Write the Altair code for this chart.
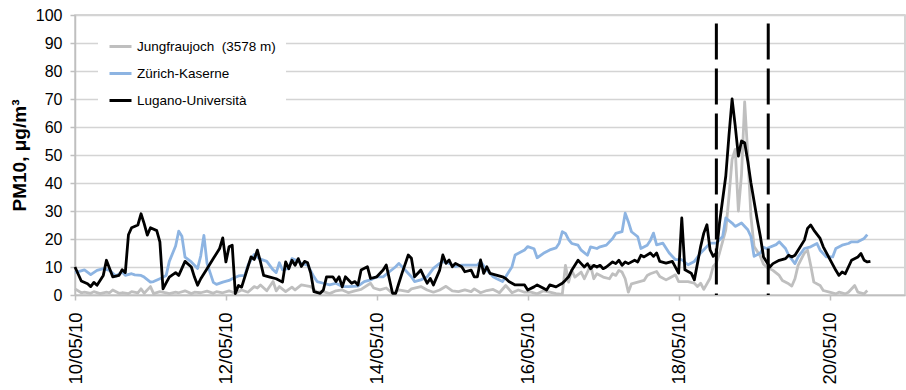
import altair as alt
import pandas as pd

# Hourly PM10 concentrations, 10-20 May 2010; offsets are hours after 10/05/10 00:00
START = pd.Timestamp("2010-05-10 00:00")

JUNG_NAME = "Jungfraujoch\u00a0\u00a0(3578 m)"
ZUR_NAME = "Zürich-Kaserne"
LUG_NAME = "Lugano-Università"

STATIONS = [JUNG_NAME, ZUR_NAME, LUG_NAME]
COLORS = ["#BFBFBF", "#8DB4E2", "#000000"]

JUNG_HOURS = [0, 2, 3, 5, 6, 8, 10, 11, 12, 14,
              15, 17, 18, 20, 21, 22, 24, 25, 27, 29,
              30, 32, 33, 35, 37, 38, 40, 42, 44, 45,
              47, 49, 51, 53, 55, 57, 58, 59, 61, 63,
              64, 65, 67, 69, 70, 72, 75, 77, 79, 81,
              83, 85, 87, 89, 91, 94, 95, 97, 99, 101,
              103, 106, 107, 110, 112, 114, 116, 118, 120, 122,
              124, 126, 127, 129, 131, 133, 135, 137, 139, 141,
              143, 145, 147, 149, 151, 153, 155, 156, 157, 158,
              159, 161, 162, 164, 165, 166, 168, 170, 171, 172,
              173, 174, 175, 176, 177, 179, 181, 182, 183, 185,
              186, 188, 189, 191, 192, 193, 195, 197, 198, 199,
              200, 202, 203, 204, 205, 207, 208, 209, 210, 211,
              212, 213, 214, 215, 216, 218, 219, 220, 222, 224,
              225, 227, 228, 229, 230, 232, 233, 234, 235, 237,
              238, 240, 242, 243, 245, 246, 248, 249, 251, 252]
JUNG_PM10 = [2.2, 0.8, 1.0, 0.6, 1.2, 0.5, 1.0, 0.8, 1.8, 0.6,
             0.8, 0.5, 1.2, 0.8, 2.2, 0.6, 3.0, 0.5, 1.2, 0.8,
             0.5, 1.0, 0.8, 1.5, 0.5, 1.0, 0.8, 1.4, 0.6, 1.2,
             0.8, 1.5, 0.6, 1.8, 1.0, 3.0, 2.5, 3.6, 1.5, 4.8,
             1.5, 3.0, 1.2, 2.8, 1.8, 3.6, 3.0, 1.0, 1.2, 0.5,
             1.5, 1.8, 0.8, 1.5, 2.0, 4.2, 2.5, 1.8, 2.5, 0.6,
             1.8, 1.2, 2.2, 3.0, 1.8, 1.0, 1.8, 3.1, 1.5, 1.2,
             1.8, 1.2, 2.2, 0.8, 1.6, 2.0, 0.8, 3.4, 0.8, 1.8,
             1.0, 1.0, 0.4, 1.5, 1.0, 0.5, 0.2, 10.6, 4.6, 8.8,
             6.4, 8.2, 5.8, 10.6, 5.8, 7.6, 6.4, 5.8, 7.6, 7.0,
             8.8, 8.2, 5.8, 1.0, 4.0, 4.6, 5.2, 7.0, 7.6, 8.4,
             6.6, 5.4, 6.0, 7.2, 4.8, 4.8, 4.8, 4.2, 3.0, 4.2,
             2.0, 6.0, 10.2, 11.4, 15.0, 23.3, 35.0, 48.4, 52.0, 30.0,
             43.0, 69.0, 50.0, 28.0, 17.3, 13.8, 11.0, 10.0, 8.8, 7.0,
             5.2, 4.0, 3.2, 5.8, 10.6, 15.0, 16.0, 10.6, 4.6, 3.4,
             1.6, 1.0, 0.4, 1.0, 0.4, 1.0, 3.4, 1.0, 0.4, 1.6]

ZUR_HOURS = [0, 3, 5, 7, 9, 11, 13, 15, 16, 18,
             19, 21, 22, 24, 25, 27, 29, 30, 32, 33,
             34, 35, 37, 39, 40, 41, 42, 44, 45, 47,
             49, 50, 52, 54, 55, 57, 58, 59, 61, 63,
             64, 65, 66, 68, 69, 71, 72, 74, 76, 77,
             79, 81, 83, 85, 87, 90, 92, 94, 96, 98,
             100, 102, 103, 105, 107, 108, 110, 112, 114, 116,
             117, 119, 121, 123, 126, 128, 129, 131, 133, 134,
             136, 137, 139, 140, 143, 144, 146, 147, 149, 151,
             153, 154, 155, 156, 157, 158, 160, 161, 163, 164,
             166, 167, 169, 171, 172, 174, 175, 176, 177, 179,
             180, 182, 183, 184, 185, 187, 189, 191, 193, 195,
             197, 199, 201, 202, 204, 206, 207, 209, 210, 212,
             214, 215, 216, 218, 219, 220, 223, 224, 226, 227,
             229, 230, 232, 234, 236, 237, 239, 241, 242, 244,
             246, 247, 249, 251, 252]
ZUR_PM10 = [8.0, 9.0, 7.3, 8.8, 9.4, 8.8, 6.8, 8.2, 7.0, 7.6,
            7.2, 7.0, 6.4, 4.6, 4.8, 5.8, 7.0, 12.0, 17.5, 22.8,
            21.0, 13.5, 11.8, 9.5, 14.0, 21.3, 11.3, 4.5, 3.8, 4.6,
            5.2, 5.8, 6.8, 7.0, 10.6, 14.5, 13.5, 12.8, 12.0, 9.0,
            8.0, 11.5, 9.0, 9.5, 13.0, 12.0, 11.3, 10.7, 6.5, 4.8,
            4.2, 3.6, 4.2, 3.0, 3.0, 3.2, 4.8, 5.4, 6.5, 6.5,
            8.3, 10.1, 11.3, 8.9, 6.5, 4.8, 5.4, 6.5, 9.5, 11.3,
            11.9, 11.3, 10.1, 10.7, 10.7, 10.7, 11.9, 8.9, 6.5, 5.9,
            4.8, 6.5, 10.1, 14.3, 16.1, 17.3, 16.5, 13.3, 14.9, 16.1,
            16.8, 18.5, 22.6, 22.0, 19.8, 18.4, 17.8, 16.0, 14.2, 17.2,
            16.6, 17.2, 17.8, 20.2, 22.0, 22.6, 29.2, 26.2, 22.6, 20.8,
            16.6, 17.8, 19.5, 22.1, 17.9, 18.5, 15.0, 12.6, 12.6, 10.8,
            12.0, 15.0, 17.3, 18.5, 18.5, 20.9, 27.5, 25.7, 24.5, 25.7,
            23.3, 20.9, 13.8, 15.0, 17.0, 16.6, 18.0, 19.0, 16.6, 14.2,
            11.2, 13.6, 16.6, 17.2, 18.4, 16.0, 13.6, 13.6, 16.6, 17.8,
            18.4, 19.0, 19.0, 20.2, 21.6]

LUG_HOURS = [0, 2, 4, 5, 6, 7, 9, 10, 11, 12,
             14, 15, 16, 17, 18, 20, 21, 22, 23, 24,
             26, 27, 28, 29, 30, 32, 33, 35, 37, 38,
             39, 40, 42, 44, 46, 47, 48, 49, 50, 51,
             52, 53, 55, 56, 57, 58, 59, 60, 62, 64,
             66, 67, 68, 69, 70, 71, 72, 73, 74, 75,
             76, 78, 79, 80, 82, 83, 84, 85, 86, 88,
             89, 90, 91, 93, 94, 96, 98, 99, 101, 102,
             103, 104, 106, 107, 108, 109, 110, 111, 112, 113,
             114, 116, 117, 118, 119, 120, 121, 123, 124, 126,
             127, 128, 129, 130, 131, 132, 134, 136, 137, 138,
             140, 141, 143, 144, 146, 147, 149, 150, 151, 153,
             155, 156, 157, 158, 160, 161, 162, 163, 164, 165,
             166, 167, 168, 169, 171, 172, 173, 174, 175, 176,
             178, 179, 180, 181, 183, 184, 185, 186, 188, 190,
             192, 193, 194, 196, 197, 199, 200, 201, 202, 203,
             204, 205, 207, 208, 209, 210, 211, 212, 213, 214,
             215, 217, 218, 219, 221, 222, 224, 226, 227, 228,
             229, 230, 232, 233, 234, 235, 237, 238, 240, 242,
             243, 244, 245, 246, 247, 249, 250, 251, 252, 253]
LUG_PM10 = [10.0, 5.0, 4.0, 3.0, 4.5, 3.5, 7.0, 12.4, 9.5, 6.5,
            7.0, 9.0, 8.0, 21.5, 24.0, 25.0, 29.0, 25.5, 21.4, 24.0,
            23.0, 19.0, 2.2, 4.3, 6.4, 8.0, 7.0, 12.0, 10.0, 6.4,
            3.5, 5.8, 9.4, 13.0, 16.6, 20.4, 11.8, 17.2, 17.8, 0.5,
            3.4, 2.8, 10.0, 13.6, 12.7, 16.0, 11.8, 7.0, 6.4, 5.8,
            4.6, 11.8, 9.4, 12.4, 10.6, 13.0, 10.2, 12.0, 11.5, 7.7,
            1.2, 0.6, 1.8, 6.5, 6.5, 4.8, 6.5, 2.9, 6.5, 4.2,
            4.8, 3.6, 8.9, 10.1, 5.9, 6.5, 8.9, 10.7, 0.6, 0.6,
            4.2, 7.7, 14.3, 13.1, 6.5, 7.7, 8.9, 6.5, 4.2, 5.9,
            3.6, 8.9, 14.3, 11.3, 12.5, 10.1, 11.3, 10.1, 8.3, 8.9,
            6.5, 6.5, 12.5, 7.7, 10.1, 7.7, 7.1, 6.5, 5.9, 4.8,
            3.6, 3.6, 3.6, 1.8, 2.9, 3.6, 2.4, 1.8, 3.6, 2.9,
            4.2, 5.3, 6.5, 8.8, 12.4, 11.2, 10.0, 11.2, 9.4, 10.6,
            10.0, 10.6, 9.4, 10.0, 11.8, 11.2, 12.4, 10.6, 11.8, 11.2,
            12.4, 11.8, 14.2, 13.6, 15.0, 13.8, 15.0, 12.0, 11.4, 12.0,
            7.8, 27.5, 9.0, 7.8, 5.4, 17.3, 22.1, 25.1, 16.1, 13.8,
            15.0, 25.7, 42.5, 56.8, 70.0, 60.4, 49.6, 55.0, 54.4, 47.8,
            40.0, 26.9, 20.9, 13.6, 10.0, 11.2, 12.4, 13.0, 14.2, 13.6,
            14.2, 16.0, 19.6, 23.8, 25.0, 23.2, 20.2, 17.2, 13.0, 8.8,
            7.0, 8.2, 7.6, 10.0, 12.4, 13.6, 14.8, 12.4, 11.8, 12.0]

# Start and end of the episode, marked with dashed lines
EVENT_TIMES = ["2010-05-18 12:00", "2010-05-19 04:30"]
EVENT_TOP = 97

TICK_DAYS = [10, 12, 14, 16, 18, 20]
Y_TICKS = list(range(0, 101, 10))


def station_frame(name, hours, values):
    return pd.DataFrame({
        "time": [START + pd.Timedelta(hours=h) for h in hours],
        "pm10": values,
        "station": name,
    })


jung = station_frame(JUNG_NAME, JUNG_HOURS, JUNG_PM10)
zur = station_frame(ZUR_NAME, ZUR_HOURS, ZUR_PM10)
lug = station_frame(LUG_NAME, LUG_HOURS, LUG_PM10)
events = pd.DataFrame({"time": pd.to_datetime(EVENT_TIMES)})

FONT = "Liberation Sans"

x_scale = alt.Scale(domain=[alt.DateTime(year=2010, month=5, date=10),
                            alt.DateTime(year=2010, month=5, date=21)])
x_axis = alt.Axis(
    title=None,
    values=[alt.DateTime(year=2010, month=5, date=d) for d in TICK_DAYS],
    format="%d/%m/%y",
    labelAngle=270,
    labelFontSize=18.5,
    labelPadding=12,
    labelOverlap=False,
    grid=False,
    ticks=True,
    tickSize=5,
)

y_scale = alt.Scale(domain=[0, 100], nice=False)
y_axis = alt.Axis(
    title="PM10, μg/m³",
    values=Y_TICKS,
    labelOverlap=False,
    labelFontSize=16,
    labelPadding=8,
    tickSize=5,
    grid=True,
    titleFontSize=19,
    titleFontWeight="bold",
    titleAngle=270,
    titleX=-46,
    titleY=140,
    titleAlign="center",
    titleBaseline="bottom",
)

legend = alt.Legend(
    title=None,
    orient="none",
    legendX=23,
    legendY=9,
    fillColor="white",
    padding=10,
    symbolType="stroke",
    symbolSize=484,
    symbolStrokeWidth=3,
    labelFontSize=13.5,
    labelFont=FONT,
    labelColor="#000000",
    labelOffset=4,
    rowPadding=8,
)

color_enc = alt.Color(
    "station:N",
    scale=alt.Scale(domain=STATIONS, range=COLORS),
    legend=legend,
)


def station_line(df):
    return alt.Chart(df).mark_line(strokeWidth=2.8, strokeJoin="round").encode(
        x=alt.X("time:T", scale=x_scale, axis=x_axis),
        y=alt.Y("pm10:Q", scale=y_scale, axis=y_axis),
        color=color_enc,
    )


event_rules = alt.Chart(events).mark_rule(
    color="black", strokeWidth=3, strokeDash=[36, 9]
).encode(
    x=alt.X("time:T", scale=x_scale, axis=x_axis),
    y=alt.YDatum(EVENT_TOP, type="quantitative", scale=y_scale, axis=y_axis),
    y2=alt.Y2Datum(0),
)

chart = alt.layer(
    station_line(jung),
    station_line(zur),
    station_line(lug),
    event_rules,
).properties(
    width=830,
    height=280,
    autosize="none",
    padding={"left": 75, "top": 15, "right": 1, "bottom": 95},
    background="white",
).configure_view(
    stroke="#C8C8C8",
    strokeWidth=1.5,
).configure_axis(
    labelFont=FONT,
    titleFont=FONT,
    labelColor="#000000",
    titleColor="#000000",
    domainColor="#BFBFBF",
    domainWidth=1.5,
    tickColor="#BFBFBF",
    tickWidth=1.5,
    gridColor="#D4D4D4",
    gridWidth=1.5,
)

chart.save("out.html", embed_options={"renderer": "svg", "actions": False})
